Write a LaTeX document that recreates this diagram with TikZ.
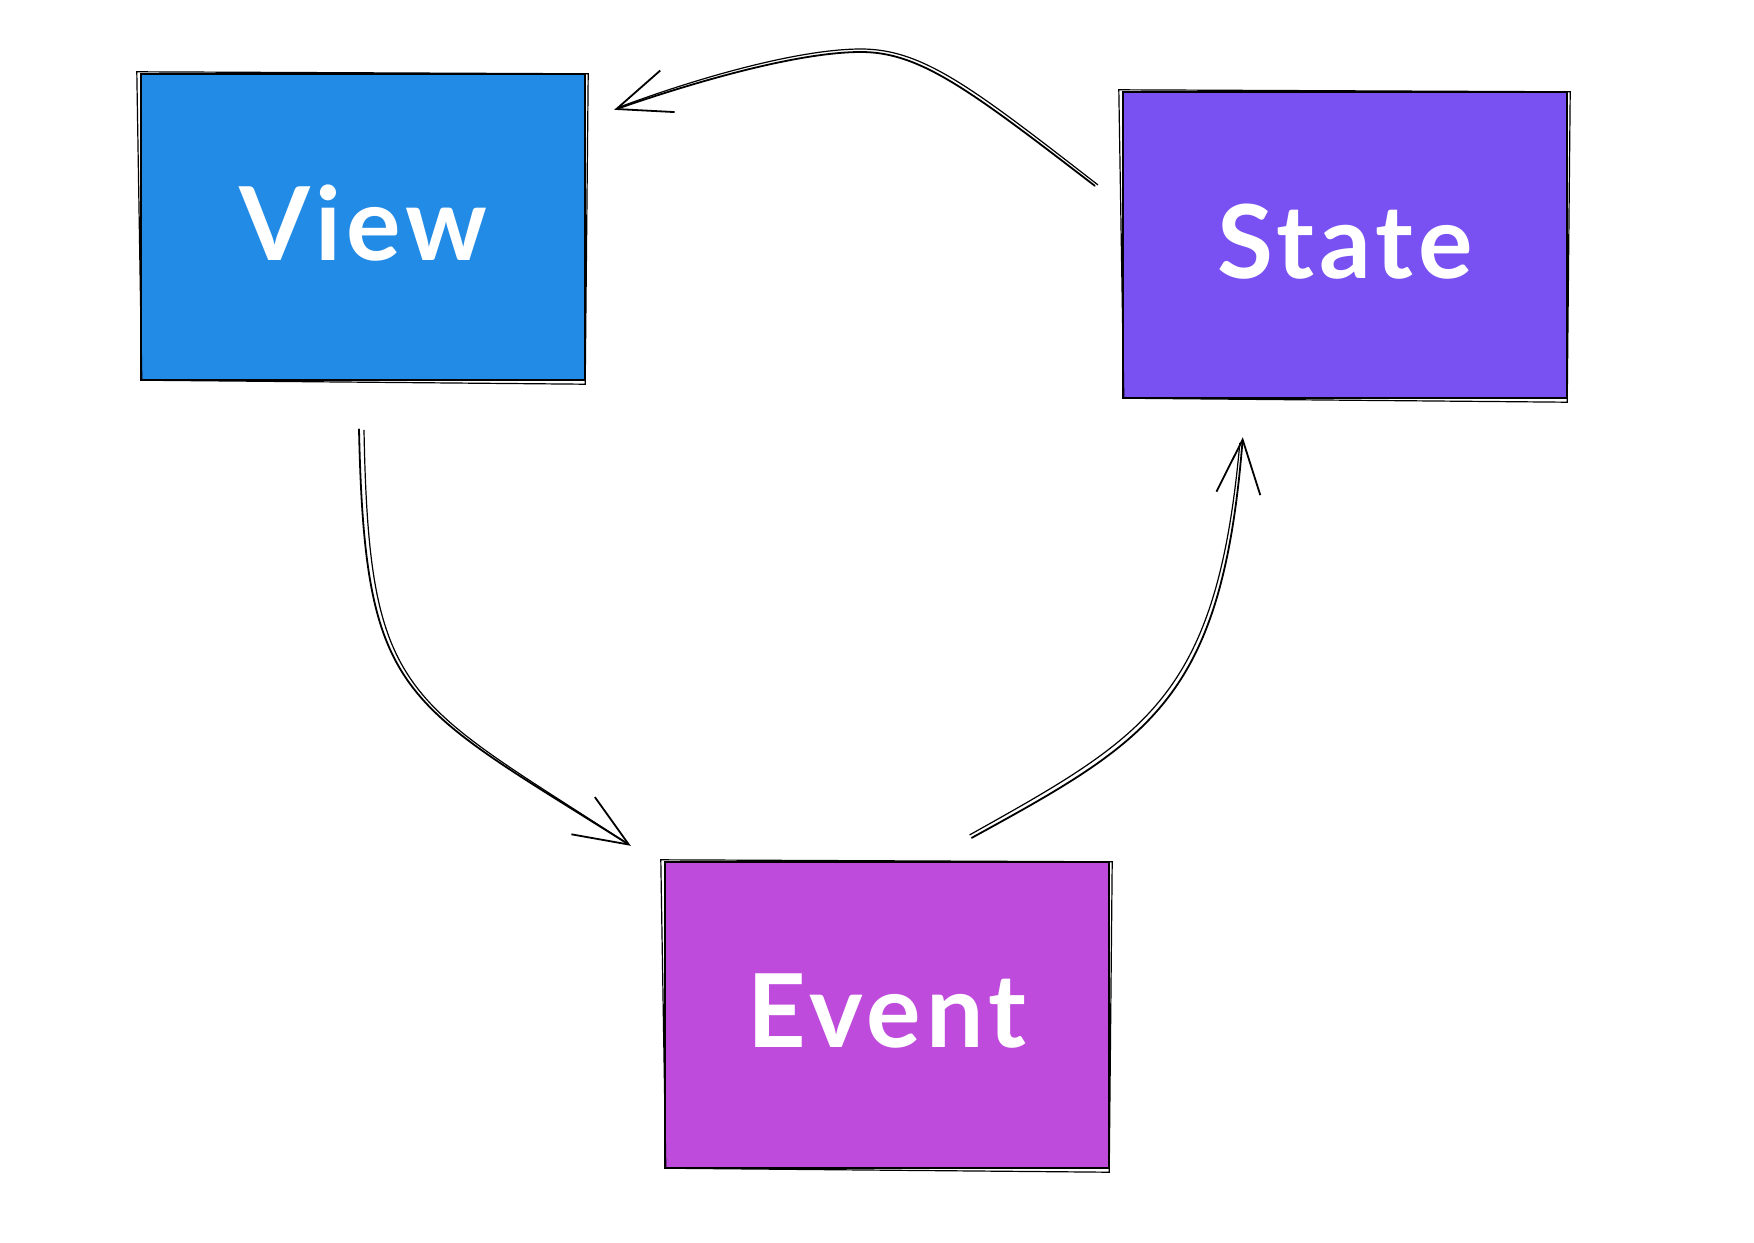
\documentclass[tikz,border=0pt]{standalone}
\usepackage{fontspec}
\setmainfont{Lato}
\newfontfamily\boxfont[LetterSpace=5]{Lato}
\usetikzlibrary{arrows.meta,calc}
\definecolor{vblue}{HTML}{228BE6}
\definecolor{sviolet}{HTML}{7950F2}
\definecolor{egrape}{HTML}{BE4BDB}
\begin{document}
\begin{tikzpicture}[x=0.5pt,y=-0.5pt,
  box/.style={draw=black, line width=1.2pt, minimum width=222pt, minimum height=153pt,
    inner sep=0pt, text=white, font=\boxfont\fontsize{51}{56}\selectfont\bfseries},
  rough/.style={draw=black, line width=0.6pt},
  conn/.style={line width=0.9pt, line cap=round, line join=round,
    -{Straight Barb[length=27pt,width=22pt,line width=0.9pt]}},
  connb/.style={line width=0.6pt, line cap=round}]
\useasboundingbox (0,0) rectangle (1754,1242);
\fill[white] (0,0) rectangle (1754,1242);

\node[box, fill=vblue] (view) at (363,227) {\raisebox{4pt}{View}};
\node[box, fill=sviolet] (state) at (1345,245) {\raisebox{4pt}{State}};
\node[box, fill=egrape] (event) at (887,1015) {\raisebox{4pt}{Event}};

% sketchy second strokes on the boxes
\foreach \n in {view,state,event}{
  \draw[rough] ($( \n.north west)+(-3,-1)$) -- ($( \n.north east)+(2,1)$)
    -- ($( \n.south east)+(-1,3)$) -- ($( \n.south west)+(2,-1)$) -- cycle;
}

% View -> Event
\draw[conn] ($(view.south)+(-4,48)$) .. controls (365,700) and (400,700) .. ($(event.north west)+(-33,-15)$);
\draw[connb] ($(view.south)+(1,49)$) .. controls (369,700) and (404,698) .. ($(event.north west)+(-36,-17)$);

% Event -> State
\draw[conn] ($(event.north west)+(308,-23)$) .. controls (1150,740) and (1222,700) .. ($(state.south west)+(121,38)$);
\draw[connb] ($(event.north west)+(306,-26)$) .. controls (1146,736) and (1217,698) .. ($(state.south west)+(118,44)$);

% State -> View
\draw[conn] ($(state.north west)+(-27,95)$) .. controls (970,90) and (920,52) .. (861,52)
   .. controls (800,52) and (700,80) .. ($(view.north east)+(28,37)$);
\draw[connb] ($(state.north west)+(-24,94)$) .. controls (973,88) and (923,49) .. (861,49)
   .. controls (800,49) and (700,77) .. ($(view.north east)+(34,34)$);
\end{tikzpicture}
\end{document}
